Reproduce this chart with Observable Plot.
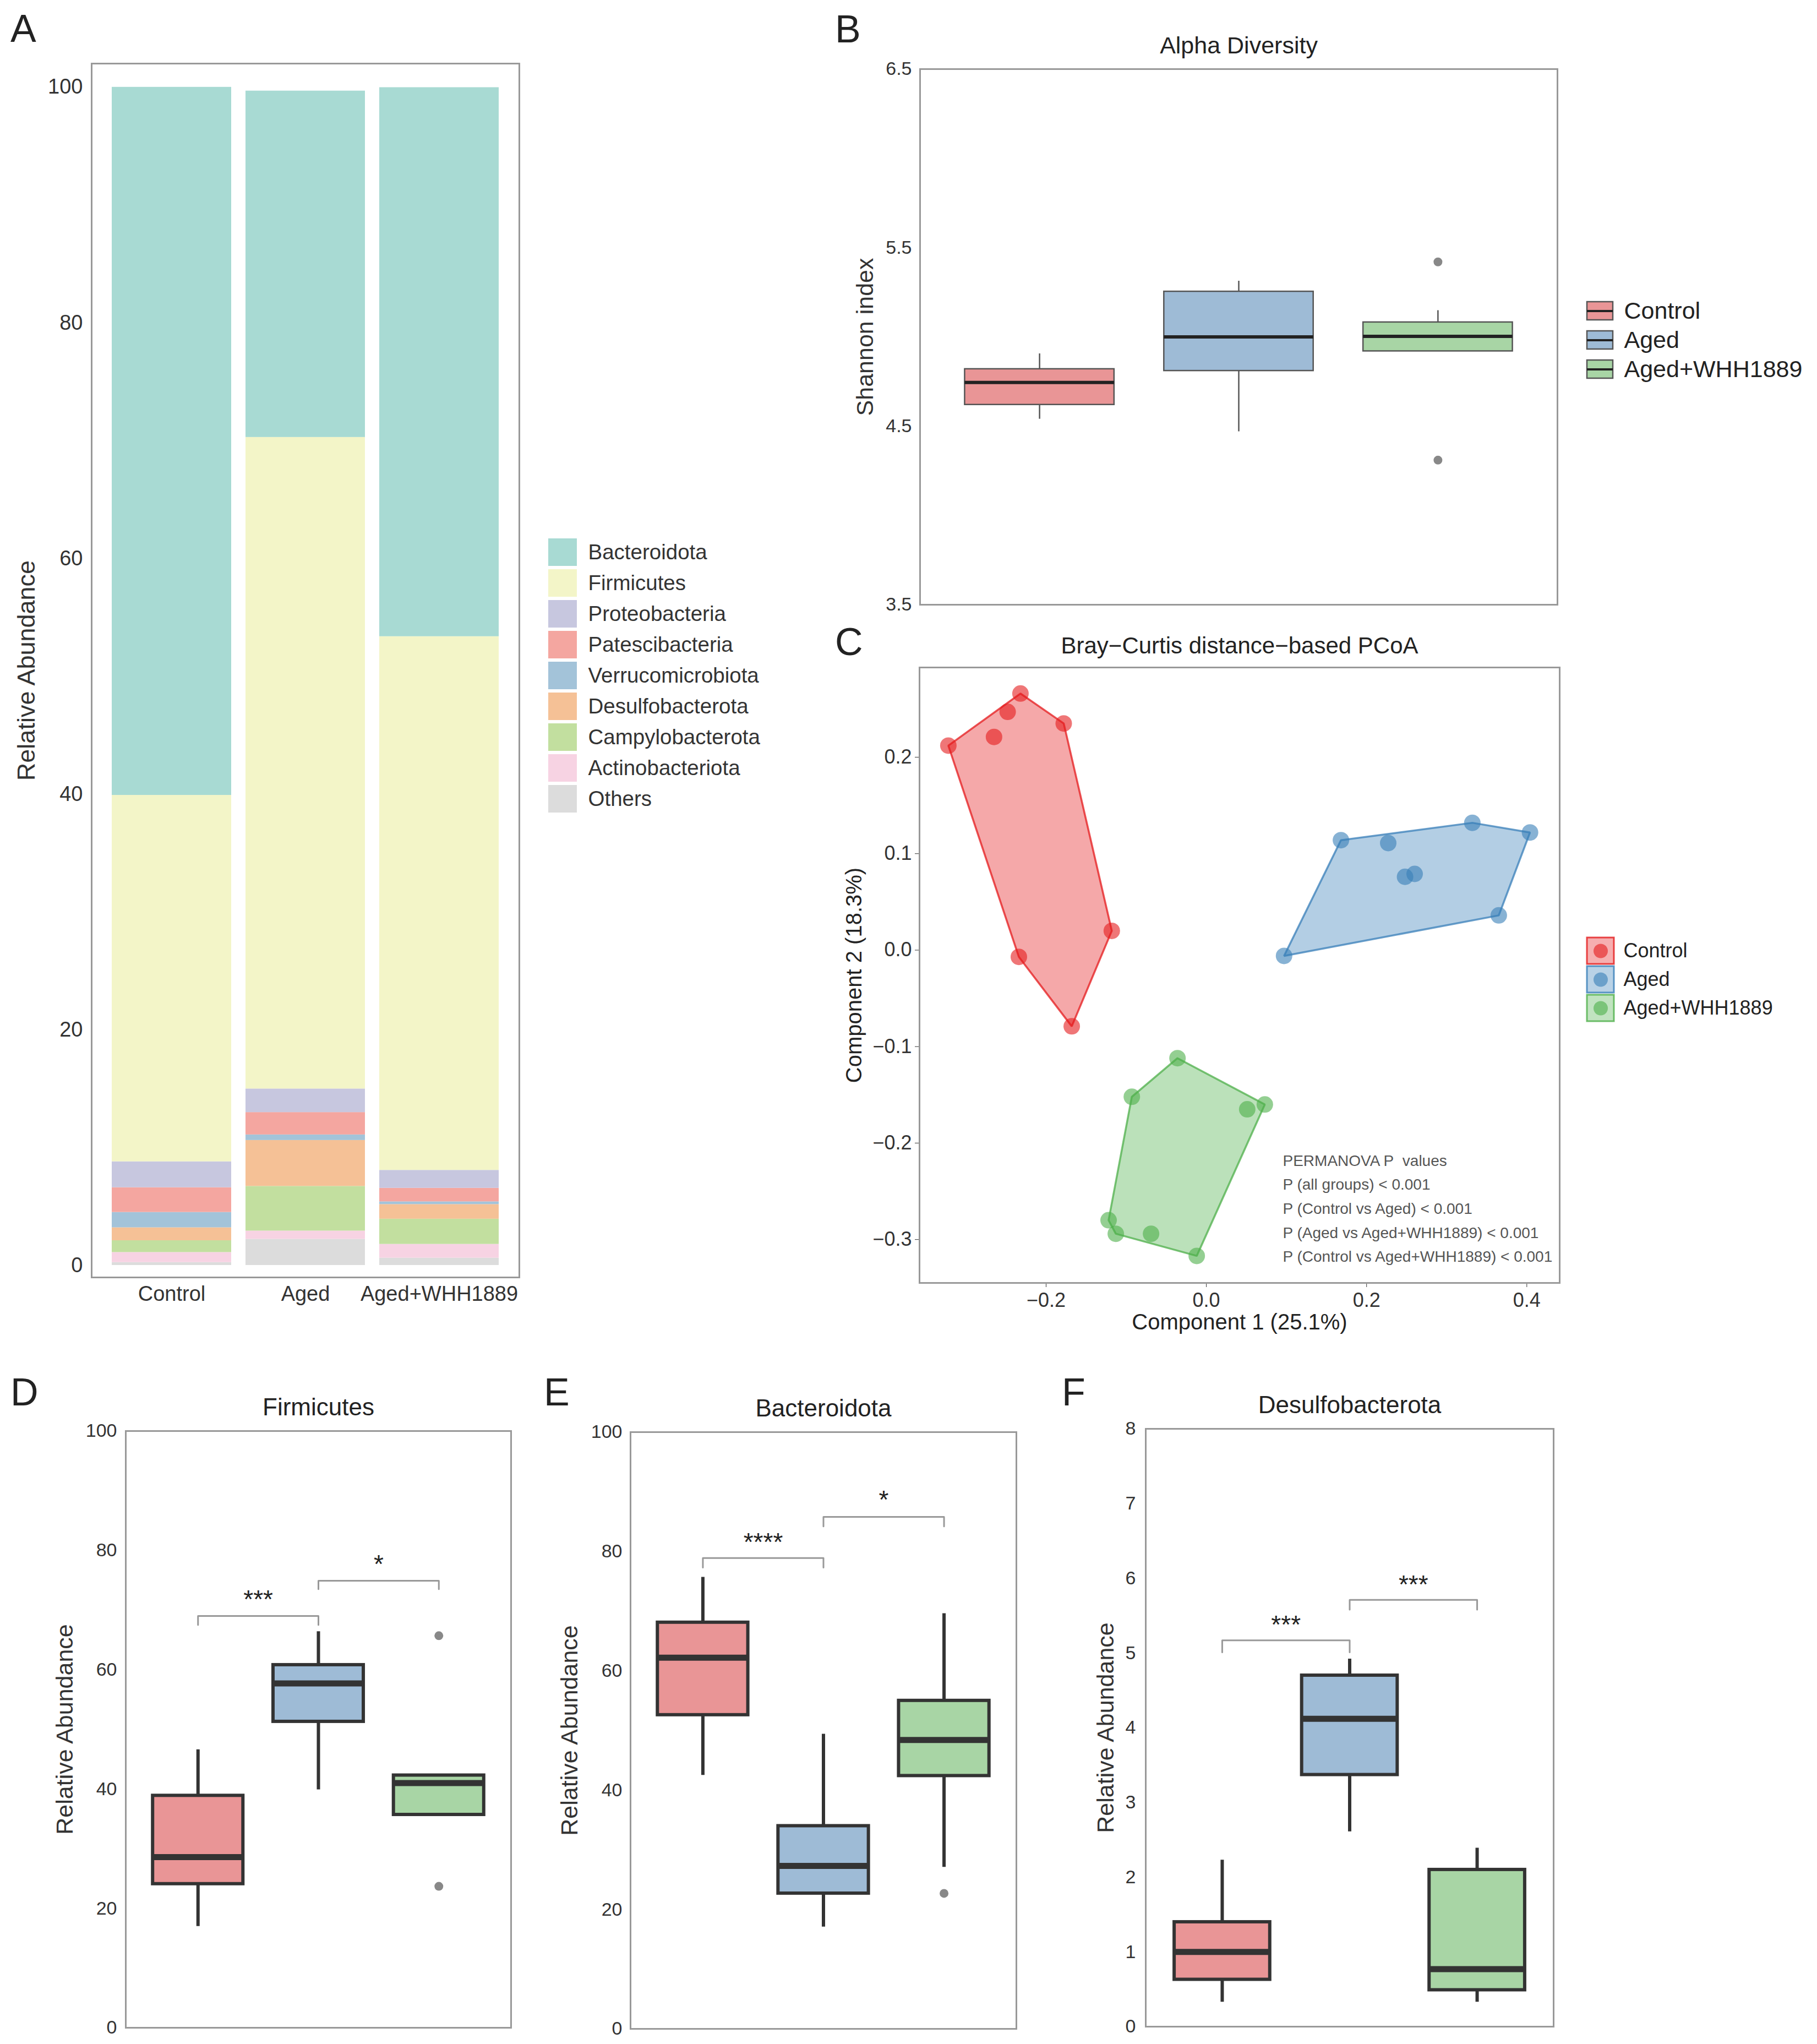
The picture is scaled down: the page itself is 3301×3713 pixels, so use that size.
<!DOCTYPE html>
<html><head><meta charset="utf-8">
<script src="https://cdn.jsdelivr.net/npm/d3@7"></script>
<script src="https://cdn.jsdelivr.net/npm/@observablehq/plot@0.6"></script>
<style>
body{margin:0;background:#fff;}
#page{position:relative;width:3301px;height:3713px;background:#fff;font-family:"Liberation Sans",Arial,Helvetica,sans-serif;color:#333;overflow:hidden;}
.letter{position:absolute;font-size:70px;line-height:70px;color:#222;font-family:"Liberation Sans",Arial,sans-serif;}
</style></head><body><div id="page"></div>
<script>
// ---------- DATA ----------
const groups = ["Control", "Aged", "Aged+WHH1889"];
const groupPos = [1, 2, 3];

// Panel A: relative abundance (%) per phylum
const phyla = ["Bacteroidota","Firmicutes","Proteobacteria","Patescibacteria","Verrucomicrobiota","Desulfobacterota","Campylobacterota","Actinobacteriota","Others"];
const phylaColors = ["#a8dad3","#f3f5c8","#c7c7df","#f4a6a0","#a3c3d9","#f5c196","#c2df9f","#f7d3e3","#dcdcdc"];
const abundControl = [60.1, 31.1, 2.2, 2.1, 1.3, 1.1, 1.0, 0.85, 0.25];
const abundAged    = [29.4, 55.3, 2.0, 1.9, 0.47, 3.9, 3.79, 0.7, 2.22];
const abundWhh     = [46.6, 45.3, 1.52, 1.15, 0.23, 1.24, 2.14, 1.17, 0.62];
const abundTicks = [0, 20, 40, 60, 80, 100];

// Panel B: Shannon index box stats
const shannonLow  = [4.54, 4.47, 4.92];
const shannonQ1   = [4.62, 4.81, 4.92];
const shannonMed  = [4.745, 5.00, 5.003];
const shannonQ3   = [4.82, 5.254, 5.082];
const shannonHigh = [4.906, 5.313, 5.148];
const shannonOutGroup = [3, 3];
const shannonOutValue = [5.42, 4.31];
const shannonTicks = [3.5, 4.5, 5.5, 6.5];

// Panel C: PCoA coordinates
const pcoaControlX = [-0.322, -0.232, -0.248, -0.265, -0.178, -0.118, -0.234, -0.168];
const pcoaControlY = [0.212, 0.266, 0.247, 0.221, 0.235, 0.020, -0.007, -0.079];
const pcoaAgedX = [0.168, 0.227, 0.332, 0.404, 0.248, 0.260, 0.365, 0.097];
const pcoaAgedY = [0.114, 0.111, 0.132, 0.122, 0.076, 0.079, 0.036, -0.006];
const pcoaWhhX = [-0.036, -0.093, 0.073, 0.051, -0.122, -0.113, -0.069, -0.012];
const pcoaWhhY = [-0.112, -0.152, -0.160, -0.165, -0.280, -0.294, -0.294, -0.317];
const pcoaXTicks = [-0.2, 0.0, 0.2, 0.4];
const pcoaYTicks = [-0.3, -0.2, -0.1, 0.0, 0.1, 0.2];
const permanovaLines = ["PERMANOVA P\u00a0 values","P (all groups) < 0.001","P (Control vs Aged) < 0.001","P (Aged vs Aged+WHH1889) < 0.001","P (Control vs Aged+WHH1889) < 0.001"];

// Panel D: Firmicutes
const firmLow  = [17.0, 39.9, 35.7];
const firmQ1   = [24.1, 51.3, 35.7];
const firmMed  = [28.6, 57.7, 41.0];
const firmQ3   = [38.9, 60.8, 42.3];
const firmHigh = [46.6, 66.4, 42.5];
const firmOutGroup = [3, 3];
const firmOutValue = [65.7, 23.7];
const firmBrFrom = [1, 2], firmBrTo = [2, 3], firmBrY = [69.0, 74.9], firmBrTip = [1.5, 1.4];
const firmBrLabel = ["***", "*"], firmBrLabelY = [72.8, 78.7];

// Panel E: Bacteroidota
const bactLow  = [42.5, 17.1, 27.1];
const bactQ1   = [52.6, 22.7, 42.4];
const bactMed  = [62.2, 27.3, 48.4];
const bactQ3   = [68.1, 34.0, 55.0];
const bactHigh = [75.7, 49.4, 69.6];
const bactOutGroup = [3];
const bactOutValue = [22.7];
const bactBrFrom = [1, 2], bactBrTo = [2, 3], bactBrY = [78.9, 85.8], bactBrTip = [1.6, 1.6];
const bactBrLabel = ["****", "*"], bactBrLabelY = [82.6, 89.7];

// Panel F: Desulfobacterota
const desuLow  = [0.33, 2.61, 0.33];
const desuQ1   = [0.63, 3.37, 0.49];
const desuMed  = [1.00, 4.12, 0.77];
const desuQ3   = [1.40, 4.70, 2.10];
const desuHigh = [2.23, 4.92, 2.39];
const desuOutGroup = [];
const desuOutValue = [];
const desuBrFrom = [1, 2], desuBrTo = [2, 3], desuBrY = [5.17, 5.71], desuBrTip = [0.16, 0.13];
const desuBrLabel = ["***", "***"], desuBrLabelY = [5.46, 6.0];

const boxFill = ["#e99596", "#9ebbd6", "#a8d5a5"];
const groupColors = ["#E41A1C", "#377EB8", "#4DAF4A"];

// ---------- HELPERS ----------
const FONT = '"Liberation Sans", Arial, Helvetica, sans-serif';
const page = document.getElementById("page");
function mount(el, left, top) {
  el.style.position = "absolute";
  el.style.left = left + "px";
  el.style.top = top + "px";
  el.style.maxWidth = "none";
  el.style.background = "transparent";
  page.appendChild(el);
}
function letter(t, x, baseline) {
  const d = document.createElement("div");
  d.className = "letter";
  d.textContent = t;
  d.style.left = x + "px";
  d.style.top = (baseline - 59) + "px";
  page.appendChild(d);
}
const baseStyle = (fs) => ({fontFamily: FONT, fontSize: fs + "px", color: "#333", background: "transparent", overflow: "visible"});

function boxStats(lows, q1s, meds, q3s, highs) {
  return groups.map((g, i) => ({group: g, pos: groupPos[i], low: lows[i], q1: q1s[i], med: meds[i], q3: q3s[i], high: highs[i]}));
}

// ---------- PANEL A ----------
const tableA = [];
[abundControl, abundAged, abundWhh].forEach((vals, gi) => {
  for (let k = phyla.length - 1; k >= 0; k--) tableA.push({group: groups[gi], phylum: phyla[k], value: vals[k]});
});
const plotA = Plot.plot({
  width: 960, height: 2420,
  marginLeft: 166, marginRight: 17, marginTop: 115, marginBottom: 100,
  style: baseStyle(38),
  x: {type: "band", domain: groups, paddingInner: 0.107, paddingOuter: 0.146, label: null, tickSize: 0, tickPadding: 16},
  y: {domain: [-1.03, 102], ticks: abundTicks, tickSize: 0, tickPadding: 16, label: null},
  color: {domain: phyla, range: phylaColors},
  marks: [
    Plot.barY(tableA, {x: "group", y: "value", fill: "phylum"}),
    Plot.frame({stroke: "#999", strokeWidth: 3}),
    Plot.text(["Relative Abundance"], {frameAnchor: "left", dx: -118, rotate: -90, text: d => d, fontSize: 45, textAnchor: "middle", lineAnchor: "middle", fill: "#333"})
  ]
});
mount(plotA, 0, 0);

const legendA = Plot.plot({
  width: 560, height: 508,
  marginLeft: 6, marginRight: 502, marginTop: 0, marginBottom: 0,
  style: baseStyle(38),
  x: {domain: [0, 1], axis: null},
  y: {type: "band", domain: phyla, paddingInner: 0.1, paddingOuter: 0.05, axis: null},
  color: {domain: phyla, range: phylaColors},
  marks: [
    Plot.barX(phyla, {x1: 0, x2: 1, y: d => d, fill: d => d}),
    Plot.text(phyla, {x: 1, y: d => d, text: d => d, textAnchor: "start", dx: 20, fontSize: 38.5, fill: "#333"})
  ]
});
mount(legendA, 990, 973);

// ---------- PANEL B ----------
const statsB = boxStats(shannonLow, shannonQ1, shannonMed, shannonQ3, shannonHigh);
const outB = shannonOutGroup.map((p, i) => ({pos: p, value: shannonOutValue[i]}));
const plotB = Plot.plot({
  width: 1400, height: 1150,
  marginLeft: 171, marginRight: 71, marginTop: 125, marginBottom: 52,
  style: baseStyle(34),
  x: {domain: [0.4, 3.6], axis: null},
  y: {domain: [3.5, 6.5], ticks: shannonTicks, tickFormat: ".1f", tickSize: 0, tickPadding: 15, label: null},
  color: {domain: groups, range: boxFill},
  marks: [
    Plot.ruleX(statsB, {x: "pos", y1: "low", y2: "high", stroke: "#555", strokeWidth: 2.5}),
    Plot.rect(statsB, {x1: d => d.pos - 0.375, x2: d => d.pos + 0.375, y1: "q1", y2: "q3", fill: "group", stroke: "#555", strokeWidth: 2.5}),
    Plot.ruleY(statsB, {x1: d => d.pos - 0.375, x2: d => d.pos + 0.375, y: "med", stroke: "#222", strokeWidth: 6}),
    Plot.dot(outB, {x: "pos", y: "value", fill: "#888", r: 8}),
    Plot.frame({stroke: "#999", strokeWidth: 3}),
    Plot.text(["Alpha Diversity"], {frameAnchor: "top", dy: -42, text: d => d, fontSize: 43, lineAnchor: "middle", fill: "#222"}),
    Plot.text(["Shannon index"], {frameAnchor: "left", dx: -99, rotate: -90, text: d => d, fontSize: 43, textAnchor: "middle", lineAnchor: "middle", fill: "#333"})
  ]
});
mount(plotB, 1500, 0);

const legendB = Plot.plot({
  width: 416, height: 161,
  marginLeft: 8, marginRight: 361, marginTop: 0, marginBottom: 0,
  style: baseStyle(43),
  x: {domain: [0, 1], axis: null},
  y: {type: "band", domain: groups, padding: 0, axis: null},
  color: {domain: groups, range: boxFill},
  marks: [
    Plot.ruleX(groups, {x: 0.5, y: d => d, stroke: "#555", strokeWidth: 2.5, insetTop: 5, insetBottom: 5}),
    Plot.barX(groups, {x1: 0, x2: 1, y: d => d, fill: d => d, stroke: "#555", strokeWidth: 2.5, insetTop: 10, insetBottom: 10}),
    Plot.ruleY(groups, {x1: 0, x2: 1, y: d => d, stroke: "#222", strokeWidth: 4}),
    Plot.text(groups, {x: 1, y: d => d, text: d => d, textAnchor: "start", dx: 20, fontSize: 43, fill: "#222"})
  ]
});
mount(legendB, 2875, 537);

// ---------- PANEL C ----------
const pcoa = [];
[[pcoaControlX, pcoaControlY], [pcoaAgedX, pcoaAgedY], [pcoaWhhX, pcoaWhhY]].forEach(([xs, ys], gi) => {
  xs.forEach((x, i) => pcoa.push({group: groups[gi], x, y: ys[i]}));
});
const hullMark = Plot.hull
  ? Plot.hull(pcoa, {x: "x", y: "y", fill: "group", stroke: "group", fillOpacity: 0.38, strokeOpacity: 0.75, strokeWidth: 3.5})
  : null;
const plotC = Plot.plot({
  width: 1400, height: 1290,
  marginLeft: 170, marginRight: 67, marginTop: 72, marginBottom: 100,
  style: baseStyle(36),
  x: {domain: [-0.358, 0.441], ticks: pcoaXTicks, tickFormat: ".1f", tickSize: 8, tickPadding: 10, label: null},
  y: {domain: [-0.345, 0.293], ticks: pcoaYTicks, tickFormat: ".1f", tickSize: 8, tickPadding: 6, label: null},
  color: {domain: groups, range: groupColors},
  marks: [
    hullMark,
    Plot.dot(pcoa, {x: "x", y: "y", fill: "group", r: 15, fillOpacity: 0.6}),
    Plot.frame({stroke: "#999", strokeWidth: 3}),
    Plot.text(["Bray\u2212Curtis distance\u2212based PCoA"], {frameAnchor: "top", dy: -39, text: d => d, fontSize: 42, lineAnchor: "middle", fill: "#222"}),
    Plot.text(["Component 1 (25.1%)"], {frameAnchor: "bottom", dy: 72, text: d => d, fontSize: 40, lineAnchor: "middle", fill: "#222"}),
    Plot.text(["Component 2 (18.3%)"], {frameAnchor: "left", dx: -118, rotate: -90, text: d => d, fontSize: 40, textAnchor: "middle", lineAnchor: "middle", fill: "#222"}),
    Plot.text([permanovaLines.join("\n")], {frameAnchor: "bottom-left", dx: 660, dy: -244, text: d => d, textAnchor: "start", lineAnchor: "top", lineHeight: 1.56, fontSize: 28, fill: "#555"})
  ].filter(Boolean)
});
mount(plotC, 1500, 1140);

const legendC = Plot.plot({
  width: 416, height: 158,
  marginLeft: 6, marginRight: 361, marginTop: 0, marginBottom: 0,
  style: baseStyle(36),
  x: {domain: [0, 1], axis: null},
  y: {type: "band", domain: groups, padding: 0, axis: null},
  color: {domain: groups, range: groupColors},
  marks: [
    Plot.barX(groups, {x1: 0, x2: 1, y: d => d, fill: d => d, fillOpacity: 0.35, stroke: d => d, strokeOpacity: 0.8, strokeWidth: 3, insetTop: 2, insetBottom: 2}),
    Plot.dot(groups, {x: 0.5, y: d => d, fill: d => d, fillOpacity: 0.6, r: 13}),
    Plot.text(groups, {x: 1, y: d => d, text: d => d, textAnchor: "start", dx: 17, fontSize: 36, fill: "#222"})
  ]
});
mount(legendC, 2877, 1700);

// ---------- PANELS D, E, F ----------
function boxPanel(cfg) {
  const stats = boxStats(cfg.low, cfg.q1, cfg.med, cfg.q3, cfg.high);
  const outs = cfg.outGroup.map((p, i) => ({pos: p, value: cfg.outValue[i]}));
  const brackets = cfg.brFrom.map((f, i) => ({from: f, to: cfg.brTo[i], y: cfg.brY[i], tip: cfg.brTip[i], label: cfg.brLabel[i], ly: cfg.brLabelY[i]}));
  const brPts = brackets.flatMap((b, i) => [
    {id: i, x: b.from, y: b.y - b.tip}, {id: i, x: b.from, y: b.y},
    {id: i, x: b.to, y: b.y}, {id: i, x: b.to, y: b.y - b.tip}
  ]);
  const p = Plot.plot({
    width: cfg.width, height: cfg.height,
    marginLeft: cfg.mL, marginRight: cfg.mR, marginTop: cfg.mT, marginBottom: cfg.mB,
    style: baseStyle(34),
    x: {domain: [0.4, 3.6], axis: null},
    y: {domain: cfg.domain, ticks: cfg.ticks, tickFormat: "d", tickSize: 0, tickPadding: cfg.tickPadding, label: null},
    color: {domain: groups, range: boxFill},
    marks: [
      Plot.ruleX(stats, {x: "pos", y1: "low", y2: "high", stroke: "#333", strokeWidth: 6}),
      Plot.rect(stats, {x1: d => d.pos - 0.375, x2: d => d.pos + 0.375, y1: "q1", y2: "q3", fill: "group", stroke: "#333", strokeWidth: 6}),
      Plot.ruleY(stats, {x1: d => d.pos - 0.375, x2: d => d.pos + 0.375, y: "med", stroke: "#333", strokeWidth: 11}),
      Plot.dot(outs, {x: "pos", y: "value", fill: "#888", r: 8}),
      Plot.line(brPts, {x: "x", y: "y", z: "id", stroke: "#999", strokeWidth: 3}),
      Plot.text(brackets, {x: d => (d.from + d.to) / 2, y: "ly", text: "label", fontSize: 46, dy: 12, fill: "#222"}),
      Plot.frame({stroke: "#999", strokeWidth: 3}),
      Plot.text([cfg.title], {frameAnchor: "top", dy: -43, text: d => d, fontSize: 44, lineAnchor: "middle", fill: "#222"}),
      Plot.text(["Relative Abundance"], {frameAnchor: "left", dx: cfg.ylabDx, rotate: -90, text: d => d, fontSize: 43, textAnchor: "middle", lineAnchor: "middle", fill: "#333"})
    ]
  });
  mount(p, cfg.left, cfg.top);
}

boxPanel({left: 0, top: 2480, width: 960, height: 1233, mL: 228, mR: 32, mT: 119, mB: 30,
  domain: [0, 100], ticks: abundTicks, tickPadding: 16, ylabDx: -110, title: "Firmicutes",
  low: firmLow, q1: firmQ1, med: firmMed, q3: firmQ3, high: firmHigh,
  outGroup: firmOutGroup, outValue: firmOutValue,
  brFrom: firmBrFrom, brTo: firmBrTo, brY: firmBrY, brTip: firmBrTip, brLabel: firmBrLabel, brLabelY: firmBrLabelY});

boxPanel({left: 960, top: 2480, width: 940, height: 1233, mL: 185, mR: 54, mT: 121, mB: 28,
  domain: [0, 100], ticks: abundTicks, tickPadding: 15, ylabDx: -110, title: "Bacteroidota",
  low: bactLow, q1: bactQ1, med: bactMed, q3: bactQ3, high: bactHigh,
  outGroup: bactOutGroup, outValue: bactOutValue,
  brFrom: bactBrFrom, brTo: bactBrTo, brY: bactBrY, brTip: bactBrTip, brLabel: bactBrLabel, brLabelY: bactBrLabelY});

boxPanel({left: 1900, top: 2480, width: 1000, height: 1233, mL: 181, mR: 78, mT: 115, mB: 32,
  domain: [0, 8], ticks: [0, 1, 2, 3, 4, 5, 6, 7, 8], tickPadding: 18, ylabDx: -72, title: "Desulfobacterota",
  low: desuLow, q1: desuQ1, med: desuMed, q3: desuQ3, high: desuHigh,
  outGroup: desuOutGroup, outValue: desuOutValue,
  brFrom: desuBrFrom, brTo: desuBrTo, brY: desuBrY, brTip: desuBrTip, brLabel: desuBrLabel, brLabelY: desuBrLabelY});

// ---------- PANEL LETTERS ----------
letter("A", 19, 76);
letter("B", 1517, 77);
letter("C", 1517, 1190);
letter("D", 19, 2553);
letter("E", 988, 2553);
letter("F", 1929, 2553);
</script></body></html>
